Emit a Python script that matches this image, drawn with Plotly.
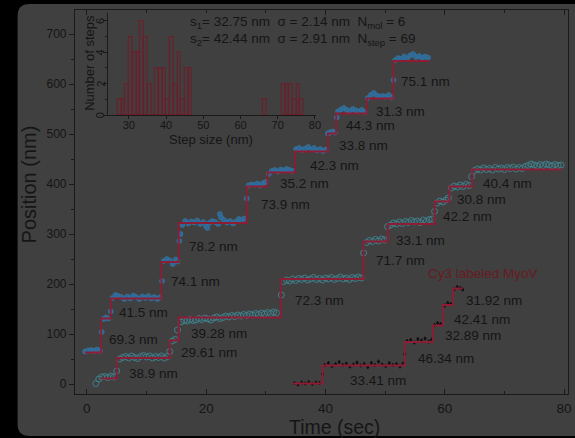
import plotly.graph_objects as go

# ---------------- data ----------------
# Molecule 1 (filled blue dots)
mol1_t = [-0.3, 0.2, 0.7, 1.2, 1.7, 2.2, 2.5, 2.8, 3.2, 3.6, 4.0,
          4.3, 4.8, 5.3, 5.8, 6.3, 6.8, 7.3, 7.8, 8.3, 8.8, 9.3, 9.8, 10.3, 10.8, 11.3, 11.8, 12.2,
          12.6, 12.9, 13.4, 13.9, 14.4, 14.9, 15.2, 15.5, 15.7,
          16.0, 16.5, 17.0, 17.5, 18.0, 18.5, 19.0, 19.5, 20.0, 20.2, 20.5, 21.0, 21.5, 22.0, 22.3, 22.5,
          23.0, 23.5, 24.0, 24.5, 25.0, 25.5, 26.0, 26.4, 26.8,
          27.1, 27.6, 28.1, 28.6, 29.1, 29.6, 30.0,
          30.5, 31.0, 31.5, 32.0, 32.5, 33.0, 33.5, 34.0, 34.5,
          35.1, 35.6, 36.1, 36.6, 37.1, 37.6, 38.1, 38.6, 39.1, 39.6, 40.1,
          40.4, 40.7, 41.2, 41.6, 41.9,
          42.1, 42.6, 43.1, 43.6, 44.1, 44.6, 45.1, 45.6, 46.1, 46.6,
          47.1, 47.6, 48.1, 48.6, 49.1, 49.6, 50.1, 50.6, 51.1, 51.4,
          51.7, 52.2, 52.7, 53.2, 53.7, 54.2, 54.7, 55.2, 55.7, 56.2, 56.7, 57.2]
mol1_y = [65, 67, 68, 66, 69, 66, 104, 130, 133, 131, 145,
          172, 178, 176, 174, 170, 175, 171, 177, 174, 170, 175, 172, 176, 171, 174, 170, 173,
          206, 246, 250, 247, 240, 249, 245, 286, 300,
          318, 326, 321, 325, 323, 327, 320, 324, 316, 312, 322, 326, 324, 320, 340, 333,
          328, 323, 326, 321, 325, 330, 327, 331, 371,
          397, 399, 398, 401, 397, 402, 404,
          420, 426, 428, 425, 429, 427, 430, 428, 426,
          470, 472, 468, 471, 474, 469, 472, 467, 470, 466, 469,
          501, 503, 505, 503, 533,
          545, 549, 552, 548, 546, 550, 547, 545, 548, 544,
          572, 578, 582, 577, 575, 576, 574, 578, 573, 608,
          648, 652, 650, 655, 651, 657, 660, 654, 656, 652, 655, 653]
fit1_t = [-0.3, 2.4, 4.0, 12.5, 15.4, 26.8, 30.3, 34.9, 40.4, 41.8, 46.9, 51.4, 57.4]
fit1_y = [63, 131, 171, 244, 322, 395, 423, 465, 501, 541, 571, 646, 646]

# Molecule 2 (open cyan circles)
mol2_t = [1.5, 2.0, 2.5, 3.0, 3.5, 4.0, 4.5, 5.0,
          5.5, 6.0, 6.5, 7.0, 7.5, 8.0, 8.5, 9.0, 9.5, 10.0, 10.5, 11.0, 11.5, 12.0, 12.5, 13.0, 13.5,
          13.9, 14.3, 14.8, 15.2,
          15.8, 16.3, 16.8, 17.3, 17.8, 18.3, 18.8, 19.3, 19.8, 20.3, 20.8, 21.3, 21.8, 22.3, 22.8,
          23.3, 23.8, 24.3, 24.8, 25.3, 25.8, 26.3, 26.8, 27.3, 27.8, 28.3, 28.8, 29.3, 29.8, 30.3,
          30.8, 31.3, 31.8, 32.6,
          33.0, 33.5, 34.0, 34.5, 35.0, 35.5, 36.0, 36.5, 37.0, 37.5, 38.0, 38.5, 39.0, 39.5, 40.0,
          40.5, 41.0, 41.5, 42.0, 42.5, 43.0, 43.5, 44.0, 44.5, 45.0, 45.5, 46.0, 46.4,
          46.9, 47.4, 47.9, 48.4, 48.9, 49.4, 49.9, 50.4,
          50.9, 51.4, 51.9, 52.4, 52.9, 53.4, 53.9, 54.4, 54.9, 55.4, 55.9, 56.4, 56.9, 57.4, 57.9, 58.3,
          58.7, 59.2, 59.7, 60.2, 60.6,
          61.1, 61.6, 62.1, 62.6, 63.1, 63.6, 64.1, 64.5,
          65.0, 65.5, 66.0, 66.5, 67.0, 67.5, 68.0, 68.5, 69.0, 69.5, 70.0, 70.5, 71.0, 71.5, 72.0,
          72.5, 73.0, 73.5, 74.0, 74.5, 75.0, 75.5, 76.0, 76.5, 77.0, 77.5, 78.0, 78.5, 79.0, 79.5]
mol2_y = [1, 10, 14, 15, 13, 16, 14, 26,
          50, 53, 55, 52, 56, 53, 51, 55, 57, 54, 56, 52, 55, 53, 56, 52, 55,
          65, 86, 89, 108,
          124, 127, 126, 129, 127, 128, 131, 129, 132, 130, 128, 132, 134, 131, 133,
          136, 134, 137, 135, 138, 136, 139, 137, 140, 138, 141, 139, 142, 140, 143,
          141, 144, 142, 178,
          205, 208, 206, 210, 207, 211, 209, 212, 208, 210, 213, 209, 211, 208, 212,
          210, 213, 209, 211, 214, 210, 212, 209, 213, 211, 214, 212, 262,
          283, 287, 285, 289, 286, 290, 288, 315,
          318, 322, 320, 324, 321, 325, 323, 327, 324, 326, 323, 328, 325, 329, 330, 345,
          362, 366, 364, 368, 372,
          392, 396, 394, 398, 395, 399, 397, 415,
          427, 430, 428, 432, 429, 431, 428, 433, 430, 432, 429, 433, 431, 434, 430,
          433, 431, 435, 437, 440, 438, 436, 439, 437, 440, 438, 436, 439, 437, 438]
fit2_t = [2.4, 5.0, 13.9, 15.4, 32.5, 46.4, 50.5, 58.3, 60.8, 64.6, 79.6]
fit2_y = [11, 52, 87, 133, 210, 285, 320, 365, 395, 429, 429]

# Cy3 labeled MyoV (small black dots)
cy3_t = [34.8, 35.4, 36.0, 36.6, 37.2, 37.8, 38.4, 39.0, 39.5,
         39.9, 40.5, 41.1, 41.7, 42.3, 42.9, 43.5, 44.1, 44.7, 45.3, 45.9, 46.5, 47.1, 47.7, 48.3,
         48.9, 49.5, 50.1, 50.7, 51.3, 51.9, 52.5, 53.0, 53.3,
         53.7, 54.3, 54.9, 55.5, 56.1, 56.7, 57.3, 57.8,
         58.3, 58.8, 59.3, 60.0, 60.5, 61.0, 61.6, 62.1, 62.6, 63.0]
cy3_y = [2, -1, 3, 1, 4, 0, 3, 2, 20,
         38, 42, 36, 40, 44, 38, 41, 35, 39, 43, 37, 40, 34, 42, 38,
         45, 39, 36, 42, 38, 40, 35, 41, 60,
         86, 88, 83, 90, 87, 91, 85, 89,
         118, 122, 120, 157, 162, 160, 190, 194, 192, 189]
fit3_t = [34.5, 39.5, 53.3, 58.0, 59.7, 61.4, 63.0]
fit3_y = [1, 37, 84, 117, 158, 191, 191]

# Step-size labels: (text, time, position)
label_text = ["69.3 nm", "41.5 nm", "74.1 nm", "78.2 nm", "73.9 nm", "35.2 nm", "42.3 nm",
              "33.8 nm", "44.3 nm", "31.3 nm", "75.1 nm",
              "38.9 nm", "29.61 nm", "39.28 nm", "72.3 nm", "71.7 nm", "33.1 nm", "42.2 nm",
              "30.8 nm", "40.4 nm",
              "33.41 nm", "46.34 nm", "32.89 nm", "42.41 nm", "31.92 nm"]
label_t = [3.4, 5.1, 13.7, 16.8, 28.9, 32.1, 37.0, 42.0, 43.1, 48.1, 52.4,
           6.7, 15.4, 17.2, 34.5, 48.1, 51.5, 59.3, 61.8, 66.1,
           43.8, 55.2, 59.7, 61.2, 63.3]
label_y = [90, 144, 206, 275, 360, 401, 438, 477, 517, 545, 605,
           21, 63, 101, 168, 248, 288, 336, 369, 401,
           8, 51, 97, 129, 168]

# Histogram of step sizes (bin centres, counts)
hist_x = [27.5, 28.5, 29.5, 30.5, 31.5, 32.5, 33.5, 34.5, 35.5, 36.5,
          37.5, 38.5, 39.5, 40.5, 41.5, 42.5, 43.5, 44.5, 45.5, 46.5,
          66.5, 71.5, 72.5, 73.5, 74.5, 75.5, 76.5]
hist_n = [1, 1, 2, 5, 4, 4, 6, 5, 2, 0,
          3, 3, 3, 1, 5, 2, 4, 1, 3, 3,
          1, 2, 2, 2, 1, 2, 1]
hist_yticks = [0, 2, 4, 6]

# ---------------- styling ----------------
FONT = "Liberation Sans, Arial, sans-serif"
TXT = "#151515"
RED = "#8e1c34"
PANEL = "#404040"

W, H = 575, 438
ML, MR, MT, MB = 75, 2, 10, 44
PW, PH = W - ML - MR, H - MT - MB


def px(xp):
    return (xp - ML) / PW


def py(yp):
    return (H - MB - yp) / PH


fig = go.Figure()

fig.add_trace(go.Scatter(x=mol1_t, y=mol1_y, mode="markers",
                         marker=dict(color="#2d6899", size=5,
                                     line=dict(color="#3a7ea3", width=0.5)),
                         showlegend=False))
fig.add_trace(go.Scatter(x=mol2_t, y=mol2_y, mode="markers",
                         marker=dict(symbol="circle-open", color="#3f7f8a", size=6,
                                     line=dict(width=1)),
                         showlegend=False))
fig.add_trace(go.Scatter(x=cy3_t, y=cy3_y, mode="markers",
                         marker=dict(color="#111111", size=3),
                         error_y=dict(type="constant", value=4, color="#111111",
                                      thickness=1, width=0),
                         showlegend=False))
for ft, fy in [(fit1_t, fit1_y), (fit2_t, fit2_y), (fit3_t, fit3_y)]:
    fig.add_trace(go.Scatter(x=ft, y=fy, mode="lines", line=dict(shape="hv", color=RED, width=1.8),
                             showlegend=False))

fig.add_trace(go.Bar(x=hist_x, y=hist_n, width=1, xaxis="x2", yaxis="y2",
                     marker=dict(color="rgba(120,35,45,0.15)",
                                 line=dict(color="#6e1c28", width=0.9)),
                     showlegend=False))

annotations = []
for s, t, v in zip(label_text, label_t, label_y):
    annotations.append(dict(x=t, y=v, xref="x", yref="y", text=s, showarrow=False,
                            xanchor="left", yanchor="middle",
                            font=dict(family=FONT, size=13.5, color=TXT)))
annotations.append(dict(x=56.9, y=221, xref="x", yref="y", text="Cy3 labeled MyoV",
                        showarrow=False, xanchor="left", yanchor="middle",
                        font=dict(family=FONT, size=13.5, color="#6a1a22")))

# rotated inset y tick labels
for v in hist_yticks:
    annotations.append(dict(x=px(100.5), y=v, xref="paper", yref="y2", text=str(v),
                            showarrow=False, xanchor="center", yanchor="middle", textangle=-90,
                            font=dict(family=FONT, size=11, color=TXT)))

NB = "\u00a0"
line1 = ("s<sub>1</sub>= 32.75 nm" + NB * 2 + "\u03c3 = 2.14 nm" + NB * 2 + "N<sub>mol</sub> = 6")
line2 = ("s<sub>2</sub>= 42.44 nm" + NB * 2 + "\u03c3 = 2.91 nm" + NB * 2 + "N<sub>step</sub> = 69")
annotations.append(dict(x=px(189), y=py(22), xref="paper", yref="paper", text=line1,
                        showarrow=False, xanchor="left", yanchor="middle",
                        font=dict(family=FONT, size=13.5, color=TXT)))
annotations.append(dict(x=px(189), y=py(39), xref="paper", yref="paper", text=line2,
                        showarrow=False, xanchor="left", yanchor="middle",
                        font=dict(family=FONT, size=13.5, color=TXT)))

annotations.append(dict(x=px(337), y=py(427), xref="paper", yref="paper", text="Time (sec)",
                        showarrow=False, xanchor="center", yanchor="middle",
                        font=dict(family=FONT, size=19.5, color=TXT)))
annotations.append(dict(x=px(29), y=py(184), xref="paper", yref="paper", text="Position (nm)",
                        showarrow=False, xanchor="center", yanchor="middle", textangle=-90,
                        font=dict(family=FONT, size=20, color=TXT)))
annotations.append(dict(x=px(89), y=py(63), xref="paper", yref="paper", text="Number of steps",
                        showarrow=False, xanchor="center", yanchor="middle", textangle=-90,
                        font=dict(family=FONT, size=13, color=TXT)))
annotations.append(dict(x=px(212), y=py(139), xref="paper", yref="paper", text="Step size (nm)",
                        showarrow=False, xanchor="center", yanchor="middle",
                        font=dict(family=FONT, size=13, color=TXT)))

# rounded grey panel behind the chart
xl, xr, yt, yb = px(17), px(590), py(4), py(436)
rx, ry = 12 / PW, 12 / PH
panel_path = (f"M {xl+rx},{yt} L {xr},{yt} L {xr},{yb} L {xl+rx},{yb} "
              f"Q {xl},{yb} {xl},{yb+ry} L {xl},{yt-ry} Q {xl},{yt} {xl+rx},{yt} Z")

fig.update_layout(
    width=W, height=H,
    margin=dict(l=ML, r=MR, t=MT, b=MB, pad=0),
    paper_bgcolor="#000000",
    plot_bgcolor=PANEL,
    font=dict(family=FONT, color=TXT),
    shapes=[dict(type="path", path=panel_path, xref="paper", yref="paper",
                 fillcolor=PANEL, line=dict(width=0), layer="below")],
    annotations=annotations,
    xaxis=dict(range=[-1.99, 80.67], tickvals=[0, 20, 40, 60, 80], showgrid=False, zeroline=False,
               showline=True, linecolor="#1a1a1a", linewidth=1.2, mirror="allticks",
               ticks="inside", ticklen=5, tickwidth=1, tickcolor="#1a1a1a",
               minor=dict(tickvals=[10, 30, 50, 70], ticks="inside", ticklen=3, tickcolor="#1a1a1a"),
               tickfont=dict(family=FONT, size=13.5, color=TXT), ticklabelstandoff=2),
    yaxis=dict(range=[-20, 748], tickvals=[0, 100, 200, 300, 400, 500, 600, 700],
               showgrid=False, zeroline=False,
               showline=True, linecolor="#1a1a1a", linewidth=1.2, mirror=True,
               ticks="outside", ticklen=5, tickwidth=1, tickcolor="#1a1a1a",
               minor=dict(tickvals=[50, 150, 250, 350, 450, 550, 650], ticks="outside",
                          ticklen=3, tickcolor="#1a1a1a"),
               tickfont=dict(family=FONT, size=12, color=TXT)),
    xaxis2=dict(domain=[px(108), px(318.5)], anchor="y2", range=[24.3, 80.3],
                tickvals=[30, 40, 50, 60, 70, 80], showgrid=False, zeroline=False,
                showline=True, linecolor="#1a1a1a", linewidth=1,
                ticks="outside", ticklen=3, tickcolor="#1a1a1a", ticklabelstandoff=-3,
                tickfont=dict(family=FONT, size=11, color=TXT)),
    yaxis2=dict(domain=[py(115), py(13)], anchor="x2", range=[0, 6.5],
                tickvals=hist_yticks, showticklabels=False, showgrid=False, zeroline=False,
                showline=True, linecolor="#1a1a1a", linewidth=1,
                ticks="outside", ticklen=4, tickcolor="#1a1a1a",
                minor=dict(tickvals=[1, 3, 5], ticks="outside", ticklen=2, tickcolor="#1a1a1a")),
    bargap=0,
)

fig.write_html("out.html", config={"displayModeBar": False},
               post_script="document.body.style.margin='0';document.body.style.background='#000';")
